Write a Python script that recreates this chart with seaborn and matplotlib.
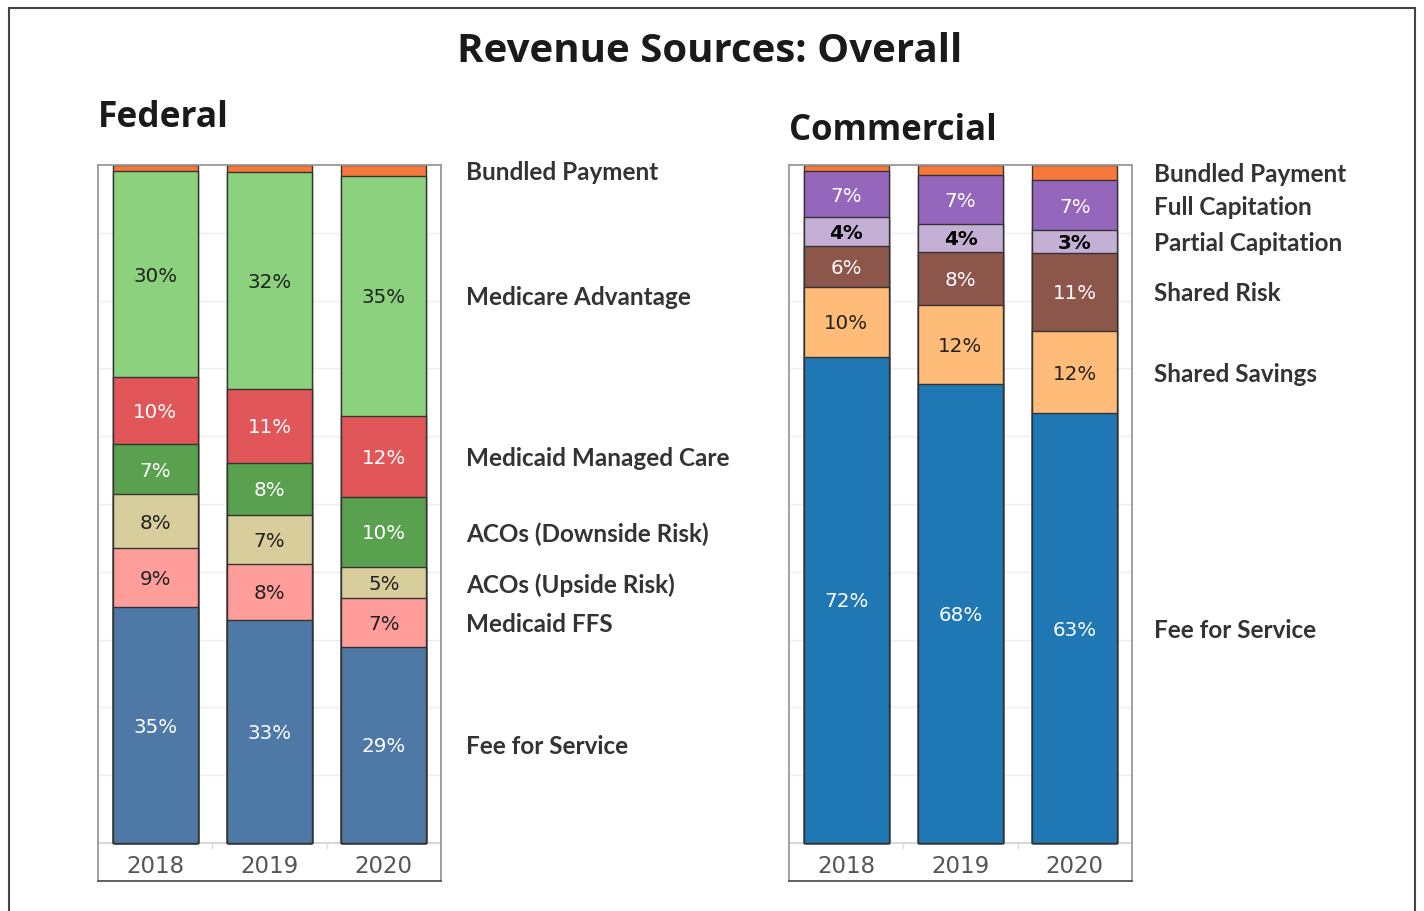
import matplotlib.pyplot as plt
import pandas as pd
import seaborn as sns
from matplotlib.patches import Rectangle
from matplotlib.transforms import blended_transform_factory

YEARS = ["2018", "2019", "2020"]

# Federal revenue shares (%), bottom segment first
fed_fee_for_service = [34.8, 32.9, 28.9]
fed_medicaid_ffs = [8.7, 8.3, 7.1]
fed_acos_upside = [8.0, 7.2, 4.6]
fed_acos_downside = [7.4, 7.7, 10.4]
fed_medicaid_managed = [9.9, 10.9, 11.9]
fed_medicare_advantage = [30.4, 32.0, 35.3]
fed_bundled = [0.9, 1.0, 1.6]

FEDERAL_CATEGORIES = [
    "Fee for Service",
    "Medicaid FFS",
    "ACOs (Upside Risk)",
    "ACOs (Downside Risk)",
    "Medicaid Managed Care",
    "Medicare Advantage",
    "Bundled Payment",
]
FEDERAL_SERIES = [
    fed_fee_for_service,
    fed_medicaid_ffs,
    fed_acos_upside,
    fed_acos_downside,
    fed_medicaid_managed,
    fed_medicare_advantage,
    fed_bundled,
]

# Commercial revenue shares (%), bottom segment first
com_fee_for_service = [71.7, 67.7, 63.3]
com_shared_savings = [10.3, 11.7, 12.2]
com_shared_risk = [6.0, 7.8, 11.4]
com_partial_cap = [4.3, 4.1, 3.4]
com_full_cap = [6.8, 7.2, 7.4]
com_bundled = [0.9, 1.5, 2.2]

COMMERCIAL_CATEGORIES = [
    "Fee for Service",
    "Shared Savings",
    "Shared Risk",
    "Partial Capitation",
    "Full Capitation",
    "Bundled Payment",
]
COMMERCIAL_SERIES = [
    com_fee_for_service,
    com_shared_savings,
    com_shared_risk,
    com_partial_cap,
    com_full_cap,
    com_bundled,
]

FEDERAL_COLORS = ["#4e79a7", "#ff9d9a", "#d7ce9c", "#59a14f", "#e15759", "#8cd17d", "#f5793b"]
FEDERAL_TEXT = ["white", "#222222", "#222222", "white", "white", "#222222", "#222222"]
COMMERCIAL_COLORS = ["#1f77b4", "#ffbb78", "#8c564b", "#c5b0d5", "#9467bd", "#f5793b"]
COMMERCIAL_TEXT = ["white", "#222222", "white", "black", "white", "#222222"]

LABEL_FONT = ["Lato", "DejaVu Sans"]
TITLE_FONT = ["Open Sans", "DejaVu Sans"]


def stacked_frame(categories, series):
    rows = []
    for i, year in enumerate(YEARS):
        total = sum(s[i] for s in series)
        bottom = 0.0
        for cat, values in zip(categories, series):
            share = values[i] / total * 100
            rows.append({"year": year, "category": cat, "value": values[i],
                         "bottom": bottom, "top": bottom + share})
            bottom += share
    return pd.DataFrame(rows)


def draw_panel(ax, categories, series, colors, text_colors, legend_x):
    data = stacked_frame(categories, series)
    color_map = dict(zip(categories, colors))
    text_map = dict(zip(categories, text_colors))

    # draw cumulative bars from the top segment down so each sits on the previous
    for cat in reversed(categories):
        sub = data[data["category"] == cat]
        sns.barplot(data=sub, x="year", y="top", order=YEARS, color=color_map[cat],
                    saturation=1, width=0.745, edgecolor="#333333", linewidth=1.0,
                    errorbar=None, ax=ax, zorder=2)

    for _, row in data.iterrows():
        if row["value"] < 2.5:
            continue
        color = text_map[row["category"]]
        ax.text(YEARS.index(row["year"]), (row["bottom"] + row["top"]) / 2,
                f"{round(row['value'])}%", ha="center", va="center_baseline",
                fontsize=14.3, color=color, zorder=3,
                fontweight="bold" if color == "black" else "normal")

    # category names beside the last bar
    trans = blended_transform_factory(ax.transAxes, ax.transData)
    last = data[data["year"] == YEARS[-1]]
    for _, row in last.iterrows():
        ax.text(legend_x, (row["bottom"] + row["top"]) / 2, row["category"],
                transform=trans, ha="left", va="center_baseline", fontsize=17.5,
                fontweight="bold", color="#333333", family=LABEL_FONT)

    for i, year in enumerate(YEARS):
        ax.text(i, -3.5, year, ha="center", va="center", fontsize=16.5, color="#555555")

    ax.set_xlim(-0.5, len(YEARS) - 0.5)
    ax.set_ylim(-5.6, 100)
    ax.set_yticks(range(10, 100, 10))
    ax.yaxis.grid(True, color="#eeeeee", linewidth=1.0)
    ax.set_axisbelow(True)
    ax.set_xticks([])
    ax.tick_params(axis="y", length=0, labelleft=False)
    ax.set_xlabel("")
    ax.set_ylabel("")
    ax.axhline(0, color="#d0d0d0", linewidth=1.2, zorder=1)
    ax.vlines([0.5, 1.5], -0.9, 0, color="#dddddd", linewidth=1.0)
    for side, spine in ax.spines.items():
        spine.set_visible(True)
        spine.set_color("#555555" if side == "bottom" else "#999999")
        spine.set_linewidth(1.3)


def main():
    sns.set_style("white")
    plt.rcParams["font.family"] = ["DejaVu Sans"]

    fig = plt.figure(figsize=(14.24, 9.11), dpi=100)
    ax_fed = fig.add_axes([98 / 1424, 1 - 881 / 911, 343 / 1424, 716 / 911])
    ax_com = fig.add_axes([789 / 1424, 1 - 881 / 911, 343 / 1424, 716 / 911])

    draw_panel(ax_fed, FEDERAL_CATEGORIES, FEDERAL_SERIES, FEDERAL_COLORS, FEDERAL_TEXT, 1.073)
    draw_panel(ax_com, COMMERCIAL_CATEGORIES, COMMERCIAL_SERIES, COMMERCIAL_COLORS,
               COMMERCIAL_TEXT, 1.064)

    fig.text(0.4986, 1 - 52 / 911, "Revenue Sources: Overall", ha="center", va="center",
             fontsize=29, fontweight="bold", color="#1a1a1a", family=TITLE_FONT)
    fig.text(98 / 1424, 1 - 118 / 911, "Federal", ha="left", va="center",
             fontsize=25.5, fontweight="bold", color="#1a1a1a", family=TITLE_FONT)
    fig.text(789 / 1424, 1 - 131 / 911, "Commercial", ha="left", va="center",
             fontsize=25, fontweight="bold", color="#1a1a1a", family=TITLE_FONT)

    fig.patches.append(Rectangle((9 / 1424, -0.02), 1406 / 1424, 1.02 - 8 / 911,
                                 transform=fig.transFigure, fill=False,
                                 edgecolor="#444444", linewidth=1.5))

    fig.savefig("out.png", dpi=100)
    plt.close(fig)


if __name__ == "__main__":
    main()
